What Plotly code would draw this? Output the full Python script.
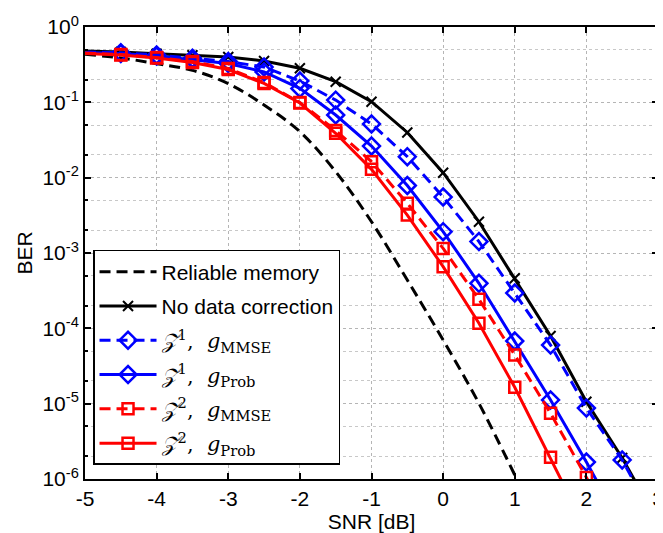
import plotly.graph_objects as go

snr = [-5, -4.5, -4, -3.5, -3, -2.5, -2, -1.5, -1, -0.5, 0, 0.5, 1, 1.5, 2, 2.5, 3]

reliable_snr = [-5, -4.5, -4, -3.5, -3, -2.5, -2, -1.5, -1, -0.5, 0, 0.5, 1]
reliable = [0.434, 0.388, 0.326, 0.266, 0.177, 0.0922, 0.0408, 0.012, 0.0026,
            4.38e-4, 7.0e-5, 1.01e-5, 1.13e-6]

no_corr = [0.480, 0.466, 0.442, 0.421, 0.400, 0.354, 0.283, 0.188, 0.102, 0.0398,
           0.01164, 0.0026, 4.61e-4, 7.9e-5, 1.06e-5, 1.90e-6, 2.7e-7]
z1_mmse = [0.466, 0.456, 0.425, 0.384, 0.348, 0.294, 0.192, 0.107, 0.0516, 0.019,
           0.00553, 0.00142, 2.94e-4, 6.0e-5, 8.75e-6, 1.79e-6, 2.4e-7]
z1_prob = [0.458, 0.445, 0.412, 0.370, 0.328, 0.253, 0.153, 0.0679, 0.0263, 0.00787,
           0.00192, 3.96e-4, 6.79e-5, 1.12e-5, 1.68e-6, 2.3e-7]
z2_mmse = [0.452, 0.431, 0.394, 0.348, 0.281, 0.183, 0.0995, 0.0423, 0.0163, 0.00457,
           0.00115, 2.43e-4, 4.42e-5, 7.45e-6, 1.05e-6, 1.33e-7]
z2_prob = [0.445, 0.425, 0.388, 0.338, 0.273, 0.178, 0.098, 0.0388, 0.0129, 0.00319,
           6.58e-4, 1.17e-4, 1.65e-5, 1.94e-6, 2.1e-7]

x_ticks = [-5, -4, -3, -2, -1, 0, 1, 2, 3]
y_tickvals = [1, 1e-1, 1e-2, 1e-3, 1e-4, 1e-5, 1e-6]
y_ticktext = ["10<sup>0</sup>", "10<sup>-1</sup>", "10<sup>-2</sup>", "10<sup>-3</sup>",
              "10<sup>-4</sup>", "10<sup>-5</sup>", "10<sup>-6</sup>"]

MATH = "<span style='font-family:DejaVu Serif'>"
names = {
    "rel": "Reliable memory",
    "nc": "No data correction",
    "z1m": MATH + "<i>𝒵</i><sup>1</sup>,  <i>g</i><sub>MMSE</sub></span>",
    "z1p": MATH + "<i>𝒵</i><sup>1</sup>,  <i>g</i><sub>Prob</sub></span>",
    "z2m": MATH + "<i>𝒵</i><sup>2</sup>,  <i>g</i><sub>MMSE</sub></span>",
    "z2p": MATH + "<i>𝒵</i><sup>2</sup>,  <i>g</i><sub>Prob</sub></span>",
}

DASH = "11px,6px"
LW = 3

fig = go.Figure()

series = [
    ("nc", no_corr, "black", "solid", "x-thin-open", 10, 2),
    ("z1m", z1_mmse, "#0000FF", DASH, "diamond-open", 13, 2.5),
    ("z1p", z1_prob, "#0000FF", "solid", "diamond-open", 13, 2.5),
    ("z2m", z2_mmse, "#FF0000", DASH, "square-open", 11, 2.5),
    ("z2p", z2_prob, "#FF0000", "solid", "square-open", 11, 2.5),
]

# Reliable memory
fig.add_trace(go.Scatter(x=reliable_snr, y=reliable, mode="lines", line_shape="spline",
                         line=dict(color="black", width=LW, dash=DASH),
                         showlegend=False, cliponaxis=True))

for key, vals, col, dash, sym, ms, mlw in series:
    xs = snr[:len(vals)]
    fig.add_trace(go.Scatter(x=xs, y=vals, mode="lines",
                             line=dict(color=col, width=LW, dash=dash),
                             showlegend=False))
    fig.add_trace(go.Scatter(x=xs[1:], y=vals[1:], mode="markers",
                             marker=dict(symbol=sym, size=ms, color=col,
                                         line=dict(color=col, width=mlw)),
                             showlegend=False))

# legend entries
fig.add_trace(go.Scatter(x=[None], y=[None], mode="lines", name=names["rel"],
                         line=dict(color="black", width=LW, dash=DASH), legendgroup="a"))
for i, (key, vals, col, dash, sym, ms, mlw) in enumerate(series):
    fig.add_trace(go.Scatter(x=[None], y=[None], mode="lines+markers", name=names[key],
                             line=dict(color=col, width=LW, dash=dash),
                             marker=dict(symbol=sym, size=ms, color=col,
                                         line=dict(color=col, width=mlw)),
                             legendgroup="g%d" % i))

FONT = "Liberation Sans, Arial, sans-serif"
# the page body adds an 8px offset; margins compensate so the plot area sits
# at x 85..658, y 27..479 in the window
fig.update_layout(
    width=663, height=533,
    margin=dict(l=77, r=13, t=19, b=62),
    paper_bgcolor="white", plot_bgcolor="white",
    font=dict(family=FONT, size=21, color="black"),
    showlegend=True,
    legend=dict(x=0.014, y=0.031, xanchor="left", yanchor="bottom",
                bgcolor="white", bordercolor="black", borderwidth=1.5,
                font=dict(size=21, family=FONT), itemwidth=57,
                tracegroupgap=4, traceorder="grouped"),
    xaxis=dict(range=[-5, 3], tickvals=x_ticks, ticktext=[str(v) for v in x_ticks],
               showgrid=True, gridcolor="#b5b5b5", griddash="dot", gridwidth=1,
               showline=True, linecolor="black", linewidth=2, mirror="ticks",
               ticks="inside", ticklen=6, tickwidth=1.5, tickcolor="black",
               title=dict(text="SNR [dB]", standoff=2, font=dict(size=21)),
               zeroline=False, automargin=False),
    yaxis=dict(type="log", range=[-6, 0], tickvals=y_tickvals, ticktext=y_ticktext,
               showgrid=True, gridcolor="#b5b5b5", griddash="dot", gridwidth=1,
               showline=True, linecolor="black", linewidth=2, mirror="ticks",
               ticks="inside", ticklen=6, tickwidth=1.5, tickcolor="black",
               minor=dict(showgrid=True, gridcolor="#c8c8c8", griddash="dot",
                          ticks="inside", ticklen=3, tickcolor="black"),
               title=dict(text="BER", standoff=4, font=dict(size=21)),
               zeroline=False, automargin=False),
)

fig.write_html("out.html")
